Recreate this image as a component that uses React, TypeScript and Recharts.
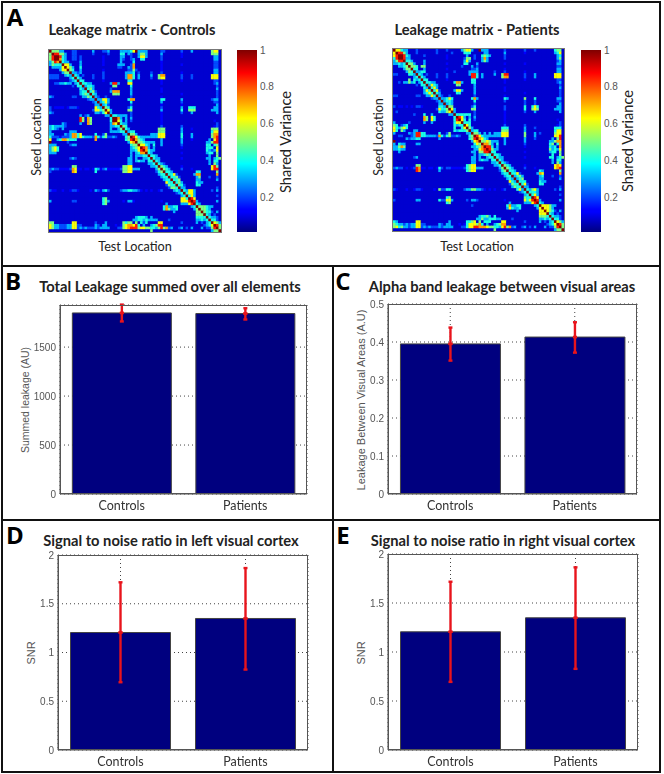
import {
  BarChart, Bar, ErrorBar, XAxis, YAxis, CartesianGrid, ScatterChart, Scatter,
} from "recharts"

const CATEGORIES = ["Controls", "Patients"]

const TOTAL_MEANS = [1849, 1843]
const TOTAL_ERR = [[87, 85], [61, 54]]
const TOTAL_TICKS = [0, 500, 1000, 1500]

const ALPHA_MEANS = [0.395, 0.413]
const ALPHA_ERR = [[0.044, 0.043], [0.041, 0.039]]
const ALPHA_TICKS = [0, 0.1, 0.2, 0.3, 0.4, 0.5]

const SNR_LEFT_MEANS = [1.205, 1.349]
const SNR_LEFT_ERR = [[0.51, 0.515], [0.524, 0.517]]
const SNR_RIGHT_MEANS = [1.206, 1.349]
const SNR_RIGHT_ERR = [[0.511, 0.511], [0.521, 0.515]]
const SNR_TICKS = [0, 0.5, 1, 1.5, 2]

const COLORBAR_TICKS = [0.2, 0.4, 0.6, 0.8, 1]

const LEVELS = [0.07, 0.12, 0.2, 0.3, 0.4, 0.5, 0.62, 0.72, 0.85, 1]

// upper triangle of each matrix, row by row, as "col:level" or "from-to:level"
const CONTROL_ROWS = [
  "0:9 1-3:5 4-5:3 9-10:2 17:3 21-22:2 23:3 28-31:3 32:4 33:6 34:9 35-38:3 44-45:2 52:2 56:3 64:5 65-66:6",
  "1:9 2-3:8 4-5:5 6:3 9-10:2 17:2 23:2 28-29:4 31:3 32:2 35:3 36-37:5 38:3 44:3 52:1 64-66:5",
  "2:9 3:9 4:8 5:4 6:3 9-10:2 12:2 21:1 28-29:3 32:2 35:3 36-37:6 38:3 44:2 52:1 65-66:3",
  "3:9 4:7 5:4 6:3 9-10:2 12:2 21:1 28:3 29:2 32:2 33:3 36-37:4 44:2 65-66:3",
  "4:9 5:4 6-7:3 12:3 21:1 28:3 32:1 33:4 44:1 65-66:2",
  "5:9 6-7:6 8:3 12:3 21:1 27-29:3 32:2 33:7 44:1 52:1 65-66:2",
  "6:9 7:6 8:5 9:3 12:4 27-28:2 31:3 32:2 33:7 44:1 65-66:2",
  "7:9 8:5 9:4 12:3 21:1 31:2 32:2 33:5 34:2 44:1 65-66:3",
  "8:9 9:3 10:3 11:2 12:3 21:2 30-31:3 32:3 33:4 35:2 40:2 44:2 52:1 65-66:3",
  "9:9 10:4 11:3 13:2 17:2 21:2 30:3 31-32:7 33:4 35:3 40:3 43:5 44-45:7 52:2 56:2 64-66:6",
  "10:9 11:4 12:3 17:2 21:2 30:3 31-32:7 33:4 35:3 40:2 43:5 44-45:6 52:2 56:2 64-66:6",
  "11:9 12:4 13:4 21:1 31-32:4 44:1 52:1 65-66:2",
  "12:9 13:4 14:4 15-16:3 24:3 25-26:8 27:3 31-32:6 44:1 65:2 66:3",
  "13:9 14:3 15-16:4 17:3 25-26:5 32:4 66:2",
  "14:9 15:4 16:5 17:3 24:2 32:3 44:1 66:3",
  "15:9 16:4 17:5 18:2 24:3 25-27:7 32:3 44:1 66:2",
  "16:9 17:4 18:3 25-27:5 32:3 52:1 66:2",
  "17:9 18:3 19:2 22:2 32:2 44:1 66:2",
  "18:9 19:3 20:3 21-22:6 23:3 31:4 32-33:7 44-45:4 52:3 64:2 65-66:3",
  "19:9 20:3 21:4 22:6 23:3 32:4 44:3 52:2 65-66:2",
  "20:9 21:3 22:4 23:2 32:2 44:1 52:1 66:3",
  "21:9 22:5 23:4 31:2 32:4 44:2 52:3 55-57:4 65-66:3",
  "22:9 23:6 24:3 31-32:5 44:3 52:4 55-57:5 64-66:3",
  "23:9 24:3 32:2 44:1 52:2 56:3 66:3",
  "24:9 25:4 26:4 27-30:3 32:2 44:1",
  "25:9 26:9 27:7 28:3 30:3 32:3 44:1",
  "26:9 27:6 28:4 30:3 32:2 44:1 65:1",
  "27:9 28:4 29:3 30:3 44:1 66:2",
  "28:9 29:5 30:4 44:2 52:2 65:1 66:2",
  "29:9 30:4 31:3 43-45:5 52:3 56:1 64-66:5",
  "30:9 31:3 32-33:4 43-45:5 52:3 64:4 65-66:6",
  "31:9 32:5 33:5 34:3 40-42:3 43-45:6 52:4 56:3 64:5 65-66:7",
  "32:9 33:8 34:6 35:4 36-42:3 43-45:6 52:4 56:3 64:5 65:7 66:8",
  "33:9 34:7 35:5 36:4 37:3 44:3 52:3 56:1 63:3 65:6 66:8",
  "34:9 35:5 36:5 37:4 38:3 39-41:3 44:3 52:3 62-63:3 64:5 65-66:8",
  "35:9 36-37:6 38:4 39:3 41:4 44:3 52:2 62-63:4 65:4 66:5",
  "36:9 37:8 38:7 39:3 41:3 52:1 62-64:4 66:6",
  "37:9 38:7 39:4 40:3 41:3 62:4 63:3 64:2 65:3 66:6",
  "38:9 39:4 40:3 52:1 62:3 63-64:4 66:5",
  "39:9 40:4 41:4 42:3 63:3 66:5",
  "40:9 41:4 42:3 43:3 52:1 62-63:3 65:3 66:4 67:5",
  "41:9 42:4 43:3 63:3 65:4 66:4",
  "42:9 43:4 44:3 45:2 63:3 65:5 66:3",
  "43:9 44:5 45:4 46:3 52:1 64:6 65:8 66:5",
  "44:9 45:5 46:4 47:3 52:2 56:1 64:6 65:8 66:8",
  "45:9 46:4 47:4 48:3 58-59:4 66:5",
  "46:9 47:4 48:4 49:6 50:2 57:3 58-59:7 66:7",
  "47:9 48:4 49:4 50:5 51:2 58:3 59:5 63:2 66:2",
  "48:9 49:4 50:4 51:5 58:3 59:3 66:3",
  "49:9 50:4 51:5 52:3 58:4 59:3 60:3",
  "50:9 51:4 52:4 53:2 58-59:4",
  "51:9 52:3 53:3 66:2",
  "52:9 53:4 54:3 55-56:6 57:3 64:2 66:3",
  "53:9 54:4 55-56:6 57:3",
  "54:9 55:4 56:6 57:3 66:2",
  "55:9 56:8 57:6",
  "56:9 57:8 58:3 66:3",
  "57:9 58:4 59:3",
  "58:9 59-61:5 62:4 63:3 64:3",
  "59:9 60-61:5 62:4 63:3",
  "60:9 61:5 62:4 63:4 64:2 66:3",
  "61:9 62:4 63:3 65:2",
  "62:9 63:4 64:3 65:3 66:2",
  "63:9 64:4 65:4 66:2",
  "64:9 65:6 66:5 67:3",
  "65:9 66:8 67:5",
  "66:9 67:5",
  "67:9",
]

const PATIENT_ROWS = [
  "0:9 1-2:6 3:4 4-5:3 9:2 17:2 21:2 27:3 28:5 29-30:6 31:3 34:9 35-37:3 44:2 52:2 56:2 64:4 65-66:5",
  "1:9 2-3:8 4:5 5:3 9:2 17:2 23:2 28-30:4 36:3 37:3 44:3 52:1 64:3 65:4 66:6",
  "2:9 3:9 4:8 5:4 6:3 12:2 21:1 29:3 32:2 35:4 36:5 37:4 38:3 44:2 65:3 66:4",
  "3:9 4:8 5:3 6:3 21:1 28:2 29-30:5 32:2 35:3 36:7 37:3 44:2 65:3 66:5",
  "4:9 5:4 6:4 7:3 12:3 28:3 29:6 30:3 35:3 36:5 37:3 65:2 66:3",
  "5:9 6:5 7:5 8:3 12:3 21:1 28-29:4 33:3 44:1 52:1 65:3 66:3",
  "6:9 7:5 8:5 9:4 11-12:5 27:2 31:3 33:2 65-66:2",
  "7:9 8:4 9:4 12:3 21:1 31-32:2 33:3 44:1 65-66:3",
  "8:9 9:3 10:3 11:4 12:4 24:2 30-33:3 40:2 44:2 52:1 65-66:3",
  "9:9 10:4 11:3 13:2 17:2 21:2 30:3 31-32:8 33:4 35:3 40:3 43:5 44-45:8 52:2 56:3 64-66:6",
  "10:9 11:4 12:3 17:2 21:2 31-32:8 33:4 35:3 43:5 44-45:7 52:2 56:3 64-66:6",
  "11:9 12:4 13:4 21:1 31-32:4 44:1 52:1 65-66:2",
  "12:9 13:4 14:4 15-16:3 24:4 25-26:7 27:3 31-32:4 44:1 65:2 66:3",
  "13:9 14:3 15:6 16:4 17:3 25-26:5 32:3 66:2",
  "14:9 15:4 16:6 17:3 32:3 44:1 66:3",
  "15:9 16:4 17:6 18:2 24:3 25-26:6 27:3 32:3 44:1 66:2",
  "16:9 17:4 18:3 25-26:4 32:3 52:1 66:2",
  "17:9 18:3 19:2 22:2 32:2 44:1 66:2",
  "18:9 19:3 20:3 21:4 22:6 23:4 31:4 32:7 33:3 44:4 45:3 52:5 56:4 65-66:3",
  "19:9 20:3 21-22:4 23:3 32:4 44:2 52:2 56:2 65-66:2",
  "20:9 21:3 22:4 23:3 32:2 52:2 56:2 66:3",
  "21:9 22:5 23:5 31:2 32:4 44:2 52:4 55:4 56:6 57:4 65-66:3",
  "22:9 23:6 24:3 31-32:5 44:2 52:4 55:5 56:6 57:5 64-66:3",
  "23:9 24:3 32:2 44:1 52:2 56:3 66:3",
  "24:9 25:4 26:4 27-30:4 32:2 44:1",
  "25:9 26:8 27:6 28:3 30:3 32:3 44:1",
  "26:9 27:6 28:4 30:4 32:2 44:1 65:1",
  "27:9 28:4 29:4 30:4 44:1 66:2",
  "28:9 29:6 30:4 44:2 52:2 65:1 66:2",
  "29:9 30:5 31:3 43-45:4 52:3 56:2 64-66:4",
  "30:9 31:3 32-33:4 43-45:5 52:3 64:4 65-66:6",
  "31:9 32:5 33:5 34:3 36:3 38:3 40-42:3 43-45:6 52:5 56:3 58:2 64:5 65-66:6",
  "32:9 33:8 34:6 35:4 36-42:3 43-45:6 52:5 56:3 64:6 65:6 66:8",
  "33:9 34:7 35:6 36:4 37:3 44:3 52:3 56:2 63:3 65:5 66:8",
  "34:9 35:5 36:5 37:6 38:5 39-41:3 44:3 52:3 62-63:3 64:5 65-66:7",
  "35:9 36-37:7 38:5 39:3 41:4 44:3 52:2 62:4 63:5 65:4 66:7",
  "36:9 37:8 38:8 39:4 41:3 52:1 62:4 63:3 64:4 66:7",
  "37:9 38:8 39:5 40:3 41:3 62:5 63:3 64:4 65:3 66:6",
  "38:9 39:4 40:4 52:1 62:3 63-64:4 66:5",
  "39:9 40:4 41:4 42:3 63:4 66:5",
  "40:9 41:4 42:3 43:3 52:1 62-63:4 65:3 66:4 67:5",
  "41:9 42:4 43:3 63:3 65:4 66:4",
  "42:9 43:4 44:3 45:2 63:3 65:5 66:3",
  "43:9 44:5 45:4 46:3 52:1 64:6 65:7 66:6",
  "44:9 45:5 46:4 47:3 52:2 56:1 64:6 65:7 66:8",
  "45:9 46:4 47:4 48:3 58:4 59:3 66:5",
  "46:9 47:4 48:4 49:6 50:2 57:3 58:7 59:6 66:7",
  "47:9 48:3 49:4 50:5 51:3 58:3 59:4 63:2 66:2",
  "48:9 49:3 50:4 51:5 58:3 59:3 66:3",
  "49:9 50:4 51:4 52:4 58:4 59:3 60:3",
  "50:9 51:4 52:6 53:2 58-59:4",
  "51:9 52:3 53:3 66:2",
  "52:9 53:4 54:3 55:5 56:6 57:3 64:2 66:3",
  "53:9 54:4 55-56:4 57:3",
  "54:9 55:4 56:6 57:3 66:2",
  "55:9 56:8 57:6",
  "56:9 57:8 58:3 66:3",
  "57:9 58:4 59:3",
  "58:9 59-61:6 62:5 63:3 64:3",
  "59:9 60-61:6 62:5 63:3",
  "60:9 61:6 62:5 63:4 64:2 66:3",
  "61:9 62:4 63:3 65:2",
  "62:9 63:4 64:3 65:3 66:2",
  "63:9 64:4 65:4 66:2",
  "64:9 65:6 66:5 67:3",
  "65:9 66:8 67:5",
  "66:9 67:5",
  "67:9",
]

const JET_STOPS = [
  [0, "#00007f"], [0.11, "#0000ff"], [0.125, "#0000ff"], [0.375, "#00ffff"],
  [0.5, "#7fff7f"], [0.625, "#ffff00"], [0.875, "#ff0000"], [1, "#7f0000"],
] as const

function hexToRgb(h: string) {
  return [1, 3, 5].map(i => parseInt(h.slice(i, i + 2), 16))
}

function jet(v: number) {
  for (let i = 1; i < JET_STOPS.length; i++) {
    const [p1, c1] = JET_STOPS[i]
    if (v <= p1) {
      const [p0, c0] = JET_STOPS[i - 1]
      const t = (v - p0) / (p1 - p0 || 1)
      const a = hexToRgb(c0)
      const b = hexToRgb(c1)
      return `rgb(${a.map((x, k) => Math.round(x + (b[k] - x) * t)).join(",")})`
    }
  }
  return "#7f0000"
}

function toCells(rows: string[]) {
  const n = rows.length
  const m: number[][] = Array.from({ length: n }, () => new Array(n).fill(LEVELS[0]))
  rows.forEach((row, r) => {
    row.split(" ").forEach(part => {
      const [span, lvl] = part.split(":")
      const [from, to] = span.split("-").map(Number)
      for (let c = from; c <= (to ?? from); c++) {
        m[r][c] = LEVELS[Number(lvl)]
        m[c][r] = LEVELS[Number(lvl)]
      }
    })
  })
  const cells: { col: number; row: number; value: number }[] = []
  m.forEach((line, r) => line.forEach((value, c) => cells.push({ col: c + 0.5, row: r + 0.5, value })))
  return cells
}

const FONT_TITLE = "Lato, sans-serif"
const FONT_AXIS = "'Liberation Sans', sans-serif"

function Text({ x, y, size, bold, rot, color, font, children }: any) {
  return (
    <div style={{
      position: "absolute", left: x, top: y, whiteSpace: "nowrap",
      transform: `translate(-50%,-50%)${rot ? ` rotate(${rot}deg)` : ""}`,
      fontFamily: font ?? FONT_TITLE, fontSize: size, fontWeight: bold ? 700 : 400,
      color: color ?? "#222", lineHeight: 1,
    }}>
      {children}
    </div>
  )
}

function Line({ x, y, w, h }: any) {
  return <div style={{ position: "absolute", left: x, top: y, width: w, height: h, background: "#111" }} />
}

function Heatmap({ x, y, w, h, rows }: any) {
  const n = rows.length
  const cw = w / n
  const ch = h / n
  return (
    <div style={{ position: "absolute", left: x, top: y, width: w, height: h, outline: "1px solid #777", overflow: "hidden", background: "#0000c4" }}>
      <div style={{ filter: "blur(0.5px)" }}>
        <ScatterChart width={w} height={h} margin={{ top: 0, right: 0, bottom: 0, left: 0 }}>
          <XAxis type="number" dataKey="col" domain={[0, n]} hide />
          <YAxis type="number" dataKey="row" domain={[0, n]} reversed hide />
          <Scatter
            data={toCells(rows)}
            isAnimationActive={false}
            shape={(p: any) => (
              <rect x={p.cx - cw / 2} y={p.cy - ch / 2} width={cw + 0.4} height={ch + 0.4} fill={jet(p.payload.value)} />
            )}
          />
        </ScatterChart>
      </div>
    </div>
  )
}

function Colorbar({ x, y, id }: any) {
  return (
    <div style={{ position: "absolute", left: x, top: y - 6 }}>
      <BarChart width={42} height={194} data={[{ name: "cb", top: 1 }]} barCategoryGap={0}
        margin={{ top: 6, right: 0, bottom: 6, left: 0 }}>
        <defs>
          <linearGradient id={id} x1="0" y1="1" x2="0" y2="0">
            {JET_STOPS.map(([p, c]) => <stop key={p} offset={p} stopColor={c} />)}
          </linearGradient>
        </defs>
        <XAxis dataKey="name" hide />
        <YAxis orientation="right" width={22} domain={[0.01, 1]} ticks={COLORBAR_TICKS} allowDataOverflow
          axisLine={false} tickLine={false} tickSize={2} tickMargin={1} interval={0}
          tick={{ fontSize: 10, fontFamily: FONT_AXIS, fill: "#555" }} />
        <Bar dataKey="top" fill={`url(#${id})`} isAnimationActive={false} />
      </BarChart>
    </div>
  )
}

function Panel({ x, y, w, h, means, err, ticks, domain }: any) {
  const data = CATEGORIES.map((name, i) => ({ name, mean: means[i], err: err[i], mid: [0, 0] }))
  return (
    <div style={{ position: "absolute", left: x - 34, top: y - 8, filter: "blur(0.3px)" }}>
      <BarChart width={w + 34 + 8} height={h + 8 + 24} data={data} barCategoryGap="10%"
        margin={{ top: 8, right: 8, bottom: 0, left: 0 }}>
        <CartesianGrid stroke="#444" strokeDasharray="1 3" />
        <XAxis dataKey="name" height={24} axisLine={{ stroke: "#555" }} tickLine={false} tickMargin={1}
          tick={{ fontSize: 12.5, fontFamily: FONT_TITLE, fill: "#333" }} />
        <YAxis width={34} domain={domain} ticks={ticks} interval={0} allowDataOverflow
          axisLine={{ stroke: "#555" }} tickLine={false} tickSize={2} tickMargin={2}
          tick={{ fontSize: 10, fontFamily: FONT_AXIS, fill: "#555" }} />
        <Bar dataKey="mean" fill="#00007f" stroke="#444" strokeWidth={1} isAnimationActive={false}>
          <ErrorBar dataKey="err" direction="y" width={2} stroke="#e8141c" strokeWidth={2.4} isAnimationActive={false} />
          <ErrorBar dataKey="mid" direction="y" width={2} stroke="#e8141c" strokeWidth={2.4} isAnimationActive={false} />
        </Bar>
      </BarChart>
      <div style={{ position: "absolute", left: 34, top: 8, width: w, height: h, boxSizing: "border-box", border: "1px solid #555" }} />
    </div>
  )
}

export default function App() {
  return (
    <div style={{ position: "absolute", left: 0, top: 0, width: 664, height: 774, background: "#fff", overflow: "hidden" }}>
      <Line x={1} y={1} w={660} h={2} />
      <Line x={1} y={1} w={2} h={772} />
      <Line x={659} y={1} w={2} h={772} />
      <Line x={1} y={771} w={660} h={2} />
      <Line x={1} y={265} w={660} h={2} />
      <Line x={1} y={519} w={660} h={2} />
      <Line x={332} y={265} w={2} h={507} />

      <Heatmap x={49} y={50} w={172} h={182} rows={CONTROL_ROWS} />
      <Heatmap x={393} y={49} w={171} h={182} rows={PATIENT_ROWS} />
      <Colorbar x={237} y={50} id="jet-a" />
      <Colorbar x={581} y={50} id="jet-b" />

      <Panel x={60} y={305} w={247} h={189} means={TOTAL_MEANS} err={TOTAL_ERR} ticks={TOTAL_TICKS} domain={[0, 1930]} />
      <Panel x={388} y={304} w={249} h={190} means={ALPHA_MEANS} err={ALPHA_ERR} ticks={ALPHA_TICKS} domain={[0, 0.5]} />
      <Panel x={58} y={555} w={250} h={195} means={SNR_LEFT_MEANS} err={SNR_LEFT_ERR} ticks={SNR_TICKS} domain={[0, 2]} />
      <Panel x={388} y={554} w={250} h={196} means={SNR_RIGHT_MEANS} err={SNR_RIGHT_ERR} ticks={SNR_TICKS} domain={[0, 2]} />

      <Text x={15} y={17} size={24} bold font="'Open Sans'" color="#000">A</Text>
      <Text x={13} y={281} size={24} bold font="'Open Sans'" color="#000">B</Text>
      <Text x={343} y={281} size={24} bold font="'Open Sans'" color="#000">C</Text>
      <Text x={15} y={535} size={24} bold font="'Open Sans'" color="#000">D</Text>
      <Text x={343} y={535} size={24} bold font="'Open Sans'" color="#000">E</Text>

      <Text x={132} y={29} size={14.7} bold>Leakage matrix - Controls</Text>
      <Text x={477} y={29} size={14.7} bold>Leakage matrix - Patients</Text>
      <Text x={170} y={286} size={14.7} bold>Total Leakage summed over all elements</Text>
      <Text x={502} y={286} size={14.7} bold>Alpha band leakage between visual areas</Text>
      <Text x={171} y={540} size={14.7} bold>Signal to noise ratio in left visual cortex</Text>
      <Text x={503} y={540} size={14.7} bold>Signal to noise ratio in right visual cortex</Text>

      <Text x={135} y={246} size={12.7}>Test Location</Text>
      <Text x={477} y={246} size={12.7}>Test Location</Text>
      <Text x={37} y={137} size={12.6} rot={-90}>Seed Location</Text>
      <Text x={379} y={137} size={12.6} rot={-90}>Seed Location</Text>
      <Text x={286} y={142} size={14.6} rot={-90}>Shared Variance</Text>
      <Text x={628} y={141} size={14.6} rot={-90}>Shared Variance</Text>

      <Text x={25} y={400} size={10.5} rot={-90} font={FONT_AXIS} color="#555">Summed leakage (AU)</Text>
      <Text x={361} y={400} size={11} rot={-90} font={FONT_AXIS} color="#555">Leakage Between Visual Areas (A.U)</Text>
      <Text x={31} y={653} size={11} rot={-90} font={FONT_AXIS} color="#555">SNR</Text>
      <Text x={361} y={653} size={11} rot={-90} font={FONT_AXIS} color="#555">SNR</Text>
    </div>
  )
}
